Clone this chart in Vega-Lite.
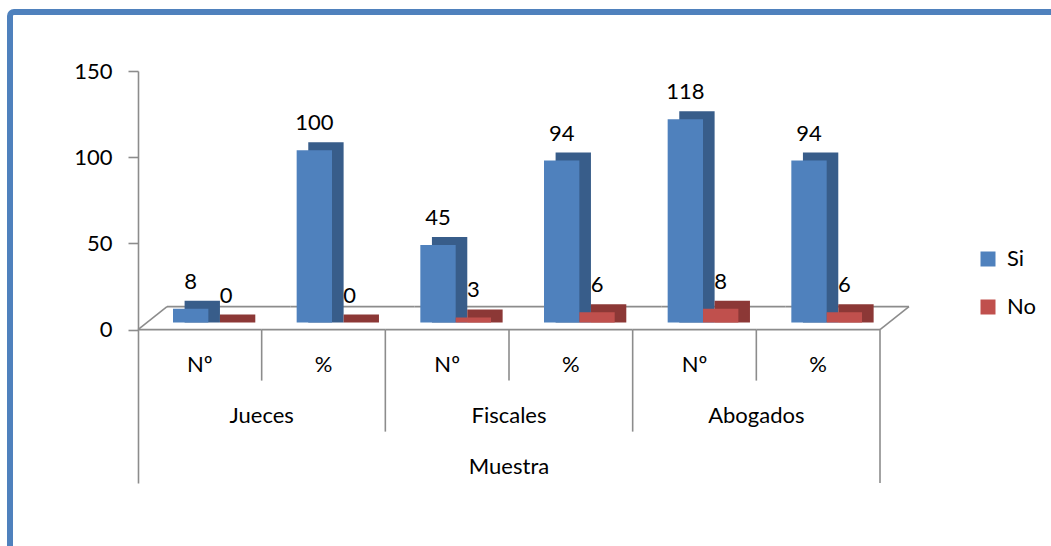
{
  "$schema": "https://vega.github.io/schema/vega-lite/v6.json",
  "autosize": "none",
  "width": 1061,
  "height": 554,
  "padding": {"left": 10, "top": 12, "right": -20, "bottom": -20},
  "background": "white",
  "view": {"stroke": "#4F81BD", "strokeWidth": 6, "cornerRadius": 4, "fill": "white"},
  "resolve": {"scale": {"xOffset": "independent"}},
  "config": {
    "font": "Lato",
    "axis": {"domainColor": "#8C8C8C", "tickColor": "#8C8C8C", "domainWidth": 1.6, "tickWidth": 1.6, "labelFont": "Lato", "labelFontSize": 22, "labelColor": "#000000", "grid": false},
    "legend": {"labelFont": "Lato", "labelFontSize": 22, "labelColor": "#000000", "symbolType": "square", "symbolSize": 225, "symbolStrokeWidth": 0, "rowPadding": 26, "labelOffset": 8, "padding": 0},
    "text": {"font": "Lato", "fontSize": 22, "color": "#000000"},
    "rule": {"color": "#8C8C8C", "strokeWidth": 1.6}
  },
  "data": {"values": [
    {"grupo": "Jueces", "sub": "Nº", "cat": "Jueces|Nº", "serie": "Si", "valor": 8},
    {"grupo": "Jueces", "sub": "Nº", "cat": "Jueces|Nº", "serie": "No", "valor": 0},
    {"grupo": "Jueces", "sub": "%", "cat": "Jueces|%", "serie": "Si", "valor": 100},
    {"grupo": "Jueces", "sub": "%", "cat": "Jueces|%", "serie": "No", "valor": 0},
    {"grupo": "Fiscales", "sub": "Nº", "cat": "Fiscales|Nº", "serie": "Si", "valor": 45},
    {"grupo": "Fiscales", "sub": "Nº", "cat": "Fiscales|Nº", "serie": "No", "valor": 3},
    {"grupo": "Fiscales", "sub": "%", "cat": "Fiscales|%", "serie": "Si", "valor": 94},
    {"grupo": "Fiscales", "sub": "%", "cat": "Fiscales|%", "serie": "No", "valor": 6},
    {"grupo": "Abogados", "sub": "Nº", "cat": "Abogados|Nº", "serie": "Si", "valor": 118},
    {"grupo": "Abogados", "sub": "Nº", "cat": "Abogados|Nº", "serie": "No", "valor": 8},
    {"grupo": "Abogados", "sub": "%", "cat": "Abogados|%", "serie": "Si", "valor": 94},
    {"grupo": "Abogados", "sub": "%", "cat": "Abogados|%", "serie": "No", "valor": 6}
  ]},
  "layer": [
    {
      "transform": [{"filter": "datum.serie == 'Si'"}],
      "mark": {"type": "rule", "xOffset": 29, "x2Offset": 29, "yOffset": -23, "y2Offset": -23},
      "encoding": {
        "x": {"field": "cat", "type": "nominal", "bandPosition": 0, "axis": null, "scale": {"type": "band", "domain": ["Jueces|Nº", "Jueces|%", "Fiscales|Nº", "Fiscales|%", "Abogados|Nº", "Abogados|%"], "range": [128, 870], "paddingInner": 0, "paddingOuter": 0}},
        "x2": {"field": "cat", "bandPosition": 1},
        "y": {"datum": 0, "type": "quantitative", "axis": {"values": [0, 50, 100, 150], "offset": -128, "title": null, "tickSize": 10, "labelPadding": 16}, "scale": {"domain": [-89, 150], "range": [471, 59], "nice": false, "zero": false}},
        "y2": {"datum": 0}
      }
    },
    {
      "transform": [{"filter": "datum.serie == 'Si'"}],
      "mark": {"type": "rule"},
      "encoding": {
        "x": {"field": "cat", "type": "nominal", "bandPosition": 0, "axis": null},
        "x2": {"field": "cat", "bandPosition": 1},
        "y": {"datum": 0, "type": "quantitative", "axis": {"values": [0, 50, 100, 150], "offset": -128, "title": null, "tickSize": 10, "labelPadding": 16}},
        "y2": {"datum": 0}
      }
    },
    {
      "transform": [{"filter": "datum.serie == 'Si' && datum.cat == 'Jueces|Nº'"}],
      "mark": {"type": "rule", "x2Offset": 29, "y2Offset": -23},
      "encoding": {
        "x": {"field": "cat", "type": "nominal", "bandPosition": 0, "axis": null},
        "x2": {"field": "cat", "bandPosition": 0},
        "y": {"datum": 0, "type": "quantitative", "axis": {"values": [0, 50, 100, 150], "offset": -128, "title": null, "tickSize": 10, "labelPadding": 16}},
        "y2": {"datum": 0}
      }
    },
    {
      "transform": [{"filter": "datum.serie == 'Si' && datum.cat == 'Abogados|%'"}],
      "mark": {"type": "rule", "x2Offset": 29, "y2Offset": -23},
      "encoding": {
        "x": {"field": "cat", "type": "nominal", "bandPosition": 1, "axis": null},
        "x2": {"field": "cat", "bandPosition": 1},
        "y": {"datum": 0, "type": "quantitative", "axis": {"values": [0, 50, 100, 150], "offset": -128, "title": null, "tickSize": 10, "labelPadding": 16}},
        "y2": {"datum": 0}
      }
    },
    {
      "transform": [{"filter": "datum.serie == 'Si' && datum.sub == '%'"}],
      "mark": {"type": "rule"},
      "encoding": {
        "x": {"field": "cat", "type": "nominal", "bandPosition": 0, "axis": null},
        "y": {"datum": 0, "type": "quantitative", "axis": {"values": [0, 50, 100, 150], "offset": -128, "title": null, "tickSize": 10, "labelPadding": 16}},
        "y2": {"datum": -29.6}
      }
    },
    {
      "transform": [{"filter": "datum.serie == 'Si' && datum.sub == 'Nº' && datum.grupo != 'Jueces'"}],
      "mark": {"type": "rule"},
      "encoding": {
        "x": {"field": "cat", "type": "nominal", "bandPosition": 0, "axis": null},
        "y": {"datum": 0, "type": "quantitative", "axis": {"values": [0, 50, 100, 150], "offset": -128, "title": null, "tickSize": 10, "labelPadding": 16}},
        "y2": {"datum": -59.2}
      }
    },
    {
      "transform": [{"filter": "datum.serie == 'Si' && datum.cat == 'Abogados|%'"}],
      "mark": {"type": "rule"},
      "encoding": {
        "x": {"field": "cat", "type": "nominal", "bandPosition": 1, "axis": null},
        "y": {"datum": 0, "type": "quantitative", "axis": {"values": [0, 50, 100, 150], "offset": -128, "title": null, "tickSize": 10, "labelPadding": 16}},
        "y2": {"datum": -89}
      }
    },
    {
      "mark": {"type": "bar", "yOffset": -15, "y2Offset": -7},
      "encoding": {
        "x": {"field": "cat", "type": "nominal", "axis": null},
        "xOffset": {"field": "serie", "type": "nominal", "scale": {"domain": ["Si", "No"], "range": [46.6, 117.3], "paddingInner": 0, "paddingOuter": 0}},
        "y": {"field": "valor", "type": "quantitative", "axis": {"values": [0, 50, 100, 150], "offset": -128, "title": null, "tickSize": 10, "labelPadding": 16}},
        "y2": {"datum": 0},
        "color": {"condition": {"test": "datum.serie == 'Si'", "value": "#385D8A"}, "value": "#8C3836"}
      }
    },
    {
      "mark": {"type": "bar", "yOffset": -7, "y2Offset": -7},
      "encoding": {
        "x": {"field": "cat", "type": "nominal", "axis": null},
        "xOffset": {"field": "serie", "type": "nominal", "scale": {"domain": ["Si", "No"], "range": [35, 105.7], "paddingInner": 0, "paddingOuter": 0}},
        "y": {"field": "valor", "type": "quantitative", "axis": {"values": [0, 50, 100, 150], "offset": -128, "title": null, "tickSize": 10, "labelPadding": 16}},
        "y2": {"datum": 0},
        "color": {"field": "serie", "type": "nominal", "scale": {"domain": ["Si", "No"], "range": ["#4F81BD", "#C0504D"]}, "legend": {"title": null, "orient": "none", "legendX": 967, "legendY": 236}}
      }
    },
    {
      "mark": {"type": "text", "dy": -34, "baseline": "middle", "align": "center"},
      "encoding": {
        "x": {"field": "cat", "type": "nominal", "axis": null},
        "xOffset": {"field": "serie", "type": "nominal", "scale": {"type": "point", "domain": ["Si", "No"], "range": [52.7, 88.05], "padding": 0}},
        "y": {"field": "valor", "type": "quantitative", "axis": {"values": [0, 50, 100, 150], "offset": -128, "title": null, "tickSize": 10, "labelPadding": 16}},
        "text": {"field": "valor", "type": "quantitative"}
      }
    },
    {
      "transform": [{"filter": "datum.serie == 'Si'"}],
      "mark": {"type": "text", "baseline": "middle", "align": "center"},
      "encoding": {
        "x": {"field": "cat", "type": "nominal", "axis": null},
        "y": {"datum": -20.3, "type": "quantitative", "axis": {"values": [0, 50, 100, 150], "offset": -128, "title": null, "tickSize": 10, "labelPadding": 16}},
        "text": {"field": "sub", "type": "nominal"}
      }
    },
    {
      "transform": [{"filter": "datum.serie == 'Si' && datum.sub == '%'"}],
      "mark": {"type": "text", "baseline": "middle", "align": "center"},
      "encoding": {
        "x": {"field": "cat", "type": "nominal", "bandPosition": 0, "axis": null},
        "y": {"datum": -50.3, "type": "quantitative", "axis": {"values": [0, 50, 100, 150], "offset": -128, "title": null, "tickSize": 10, "labelPadding": 16}},
        "text": {"field": "grupo", "type": "nominal"}
      }
    },
    {
      "transform": [{"filter": "datum.serie == 'Si' && datum.cat == 'Fiscales|%'"}],
      "mark": {"type": "text", "baseline": "middle", "align": "center", "text": "Muestra"},
      "encoding": {
        "x": {"field": "cat", "type": "nominal", "bandPosition": 0, "axis": null},
        "y": {"datum": -79.5, "type": "quantitative", "axis": {"values": [0, 50, 100, 150], "offset": -128, "title": null, "tickSize": 10, "labelPadding": 16}}
      }
    }
  ]
}
